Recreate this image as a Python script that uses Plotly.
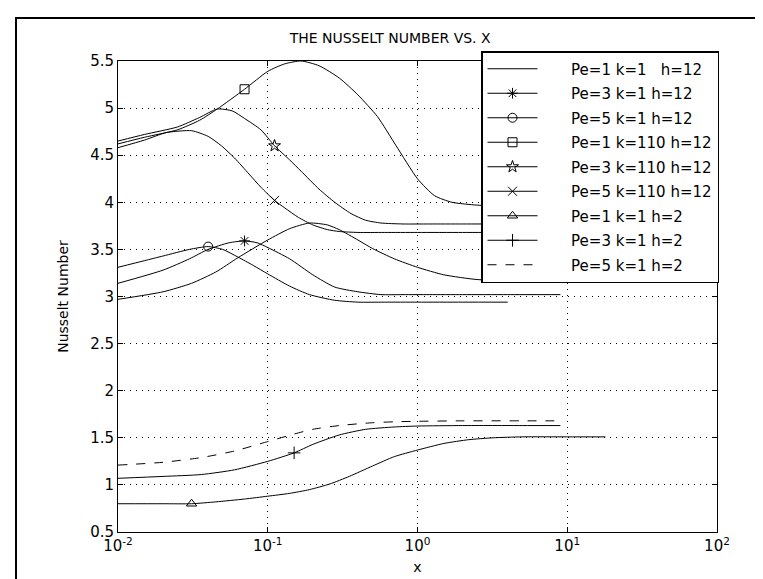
import plotly.graph_objects as go

# ---------------- data ----------------
names = ["Pe=1 k=1   h=12", "Pe=3 k=1 h=12", "Pe=5 k=1 h=12",
         "Pe=1 k=110 h=12", "Pe=3 k=110 h=12", "Pe=5 k=110 h=12",
         "Pe=1 k=1 h=2", "Pe=3 k=1 h=2", "Pe=5 k=1 h=2"]

x_pe1_k1_h12 = [0.01, 0.02, 0.031, 0.045, 0.063, 0.1, 0.14, 0.19, 0.25, 0.3, 0.4, 0.5, 0.7, 1.0, 1.5, 2.5, 4, 6, 9]
y_pe1_k1_h12 = [2.97, 3.05, 3.14, 3.26, 3.41, 3.60, 3.72, 3.78, 3.76, 3.71, 3.60, 3.51, 3.40, 3.31, 3.23, 3.18, 3.17, 3.17, 3.17]

x_pe3_k1_h12 = [0.01, 0.02, 0.03, 0.04, 0.055, 0.07, 0.085, 0.1, 0.14, 0.2, 0.28, 0.4, 0.57, 0.8, 1.2, 2, 4, 9]
y_pe3_k1_h12 = [3.14, 3.28, 3.40, 3.50, 3.57, 3.59, 3.57, 3.52, 3.40, 3.23, 3.10, 3.05, 3.02, 3.02, 3.02, 3.02, 3.02, 3.02]

x_pe5_k1_h12 = [0.01, 0.015, 0.02, 0.03, 0.04, 0.05, 0.063, 0.08, 0.1, 0.14, 0.19, 0.28, 0.4, 0.6, 1, 2, 4]
y_pe5_k1_h12 = [3.31, 3.38, 3.43, 3.50, 3.53, 3.50, 3.42, 3.33, 3.24, 3.11, 3.02, 2.96, 2.94, 2.94, 2.94, 2.94, 2.94]

x_pe1_k110_h12 = [0.01, 0.015, 0.025, 0.035, 0.046, 0.07, 0.1, 0.13, 0.167, 0.22, 0.3, 0.4, 0.54, 0.72, 1.0, 1.3, 1.7, 2.5, 4, 6, 9]
y_pe1_k110_h12 = [4.62, 4.69, 4.77, 4.87, 4.99, 5.20, 5.39, 5.47, 5.50, 5.45, 5.32, 5.14, 4.91, 4.60, 4.25, 4.07, 4.00, 3.97, 3.96, 3.96, 3.96]

x_pe3_k110_h12 = [0.01, 0.015, 0.025, 0.035, 0.046, 0.058, 0.07, 0.09, 0.111, 0.14, 0.167, 0.22, 0.28, 0.36, 0.45, 0.57, 0.8, 1.2, 2, 4, 9]
y_pe3_k110_h12 = [4.65, 4.72, 4.80, 4.90, 4.99, 4.97, 4.89, 4.77, 4.60, 4.45, 4.33, 4.14, 4.00, 3.88, 3.81, 3.78, 3.77, 3.77, 3.77, 3.77, 3.77]

x_pe5_k110_h12 = [0.01, 0.015, 0.021, 0.031, 0.04, 0.049, 0.06, 0.075, 0.09, 0.111, 0.13, 0.16, 0.2, 0.25, 0.3, 0.4, 0.6, 1, 2, 4, 9]
y_pe5_k110_h12 = [4.58, 4.66, 4.74, 4.76, 4.70, 4.60, 4.47, 4.30, 4.16, 4.02, 3.94, 3.84, 3.76, 3.71, 3.69, 3.68, 3.68, 3.68, 3.68, 3.68, 3.68]

x_pe1_k1_h2 = [0.01, 0.02, 0.031, 0.045, 0.07, 0.1, 0.14, 0.19, 0.26, 0.35, 0.5, 0.7, 1.0, 1.5, 2.2, 3.2, 5, 10, 18]
y_pe1_k1_h2 = [0.80, 0.80, 0.80, 0.82, 0.85, 0.88, 0.91, 0.95, 1.01, 1.09, 1.20, 1.30, 1.37, 1.44, 1.48, 1.50, 1.51, 1.51, 1.51]

x_pe3_k1_h2 = [0.01, 0.02, 0.036, 0.06, 0.1, 0.15, 0.2, 0.3, 0.45, 0.7, 1.0, 2, 5, 9]
y_pe3_k1_h2 = [1.07, 1.09, 1.11, 1.16, 1.25, 1.34, 1.43, 1.53, 1.59, 1.615, 1.625, 1.63, 1.63, 1.63]

x_pe5_k1_h2 = [0.01, 0.02, 0.036, 0.06, 0.1, 0.15, 0.2, 0.3, 0.5, 0.7, 1.0, 2, 5, 9]
y_pe5_k1_h2 = [1.21, 1.24, 1.29, 1.36, 1.46, 1.54, 1.59, 1.63, 1.66, 1.67, 1.675, 1.68, 1.68, 1.68]

xs = [x_pe1_k1_h12, x_pe3_k1_h12, x_pe5_k1_h12, x_pe1_k110_h12, x_pe3_k110_h12,
      x_pe5_k110_h12, x_pe1_k1_h2, x_pe3_k1_h2, x_pe5_k1_h2]
ys = [y_pe1_k1_h12, y_pe3_k1_h12, y_pe5_k1_h12, y_pe1_k110_h12, y_pe3_k110_h12,
      y_pe5_k110_h12, y_pe1_k1_h2, y_pe3_k1_h2, y_pe5_k1_h2]
# index of the single point that carries the marker (None = no marker)
marker_idx = [None, 5, 4, 5, 8, 9, 2, 5, None]
symbols = [None, "asterisk-open", "circle-open", "square-open", "star-open",
           "x-thin-open", "triangle-up-open", "cross-thin-open", None]
dashes = ["solid"] * 8 + ["dash"]

x_tickvals = [0.01, 0.1, 1, 10, 100]
x_ticktext = ["10<sup>-2</sup>", "10<sup>-1</sup>", "10<sup>0</sup>", "10<sup>1</sup>", "10<sup>2</sup>"]
y_tickvals = [0.5, 1, 1.5, 2, 2.5, 3, 3.5, 4, 4.5, 5, 5.5]

# ---------------- figure ----------------
FONT = "DejaVu Sans"
PAD = "\u00a0" * 6
fig = go.Figure()
for i in range(len(names)):
    if symbols[i] is not None:
        kw = dict(mode="lines+markers",
                  marker=dict(symbol=symbols[i], size=9, color="black",
                              line=dict(color="black", width=1)),
                  selectedpoints=[marker_idx[i]],
                  unselected=dict(marker=dict(opacity=0)),
                  selected=dict(marker=dict(opacity=1)))
    else:
        kw = dict(mode="lines")
    fig.add_trace(go.Scatter(
        x=xs[i], y=ys[i], name=PAD + names[i], legendgroup="g%d" % i,
        line=dict(color="black", width=1, dash=dashes[i], shape="spline", smoothing=0.6),
        **kw))

L, R, T, B = 110, 54, 53, 55
W, H = 763, 579
pw, ph = W - L - R, H - T - B

def px(xp):
    return (xp - L) / pw

def py(yp):
    return (H - B - yp) / ph

grid = dict(showgrid=True, gridcolor="black", griddash="1px,5px", gridwidth=1)
axis_common = dict(showline=True, linecolor="black", linewidth=1, mirror="ticks",
                   ticks="inside", ticklen=5, tickcolor="black", zeroline=False,
                   tickfont=dict(size=15), **grid)

fig.update_layout(
    width=W, height=H, autosize=False,
    margin=dict(l=L, r=R, t=T, b=B, pad=0),
    paper_bgcolor="white", plot_bgcolor="white",
    font=dict(family=FONT, size=15, color="black"),
    title=dict(text="THE NUSSELT NUMBER VS. X", x=px(410), xanchor="center",
               y=1 - 30 / H, yanchor="middle", font=dict(family=FONT, size=14)),
    xaxis=dict(type="log", range=[-2, 2], tickvals=x_tickvals, ticktext=x_ticktext,
               title=dict(text="x", font=dict(size=14), standoff=8), **axis_common),
    yaxis=dict(range=[0.5, 5.5], tickvals=y_tickvals,
               title=dict(text="Nusselt Number", font=dict(size=14), standoff=18),
               **axis_common),
    legend=dict(x=px(711), xanchor="right", y=py(43), yanchor="top",
                bgcolor="white", bordercolor="black", borderwidth=1.5,
                font=dict(family=FONT, size=15), itemwidth=50,
                traceorder="grouped", tracegroupgap=2),
    showlegend=True,
    shapes=[dict(type="rect", xref="paper", yref="paper",
                 x0=px(8), x1=px(755), y0=py(576), y1=py(10),
                 line=dict(color="black", width=2), layer="above")],
)

fig.write_html("out.html")
